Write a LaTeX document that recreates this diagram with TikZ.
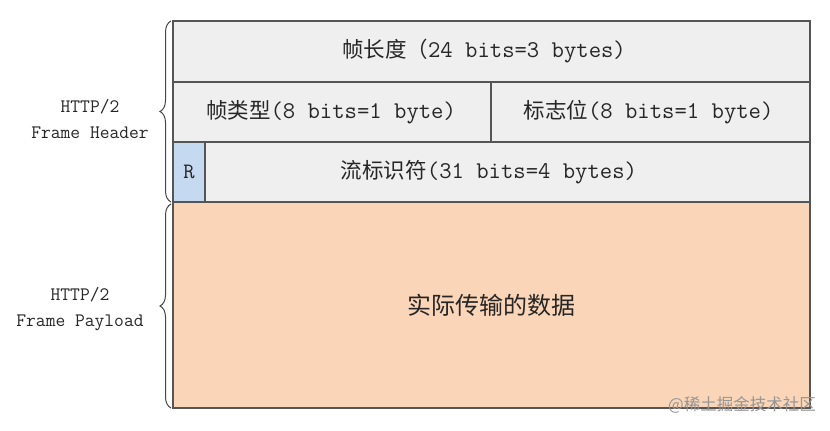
\documentclass[tikz,border=0pt]{standalone}
\usepackage{fontspec}
\newfontfamily\cjk{Noto Sans CJK SC}
\usetikzlibrary{decorations.pathreplacing,calc}
\definecolor{cellgray}{RGB}{239,239,239}
\definecolor{peach}{RGB}{250,213,183}
\definecolor{rblue}{RGB}{197,217,241}
\definecolor{edge}{RGB}{85,85,85}
\definecolor{bracec}{RGB}{70,70,70}
\definecolor{wmark}{RGB}{150,150,150}
\newcommand{\cj}[1]{{\cjk\fontsize{21.5}{24}\selectfont #1}}
\newcommand{\mn}[1]{{\ttfamily\fontsize{24}{26}\selectfont #1}}
\begin{document}
\begin{tikzpicture}[x=1pt,y=-1pt,
  cell/.style={draw=edge,line width=1.3pt,fill=cellgray,rectangle,inner sep=0pt,outer sep=0pt},
  txt/.style={inner sep=0pt,text=black!85},
  lbl/.style={inner sep=0pt,align=center,font=\ttfamily\fontsize{19}{26}\selectfont,text=black!85},
  brc/.style={draw=bracec,line width=1pt,decorate,decoration={brace,amplitude=11pt}}]
\useasboundingbox (0,0) rectangle (830,431);
\node[cell,minimum width=637pt,minimum height=61pt] (len) at (491.5,51.5) {};
\node[cell,minimum width=318pt,minimum height=60pt] (typ) at (332,112) {};
\node[cell,minimum width=319pt,minimum height=60pt] (flg) at (650.5,112) {};
\node[cell,minimum width=605pt,minimum height=60pt] (sid) at (507.5,172) {};
\node[cell,fill=rblue,minimum width=32pt,minimum height=60pt] (rbit) at (189,172) {};
\node[cell,fill=peach,minimum width=637pt,minimum height=206pt] (pay) at (491.5,305) {};
\node[txt] (lentxt) at (484,51.5) {\cj{帧长度（}\mn{24 bits=3 bytes)}};
\node[txt] (typtxt) at (331,112) {\cj{帧类型}\mn{(8 bits=1 byte)}};
\node[txt] (flgtxt) at (648.5,112) {\cj{标志位}\mn{(8 bits=1 byte)}};
\node[txt] (sidtxt) at (489,172) {\cj{流标识符}\mn{(31 bits=4 bytes)}};
\node[txt,font=\ttfamily\fontsize{22}{24}\selectfont] (rtxt) at (rbit.center) {R};
\node[txt,font=\cjk\fontsize{24}{28}\selectfont] (paytxt) at (pay.center) {实际传输的数据};
\coordinate (hb) at (171,202);
\coordinate (ht) at (171,21);
\coordinate (pb) at (171,408);
\coordinate (pt) at (171,204);
\draw[brc] (hb) -- (ht);
\draw[brc] (pb) -- (pt);
\node[lbl] (hdrlbl) at (90,119) {HTTP/2\\Frame Header};
\node[lbl] (paylbl) at (80,309) {HTTP/2\\Frame Payload};
\node[inner sep=0pt,anchor=east,text=wmark,font=\cjk\fontsize{16.5}{20}\selectfont] (wm) at (816,405) {@稀土掘金技术社区};
\end{tikzpicture}
\end{document}
